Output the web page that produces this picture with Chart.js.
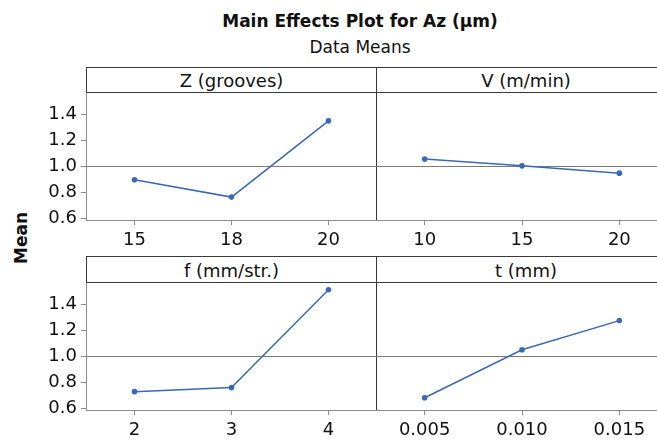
<!DOCTYPE html>
<html><head><meta charset="utf-8">
<script src="https://cdn.jsdelivr.net/npm/chart.js@4.4.1/dist/chart.umd.min.js"></script>
<style>
html,body{margin:0;padding:0;background:#fff;}
#wrap{position:relative;width:657px;height:440px;overflow:hidden;font-family:"DejaVu Sans",sans-serif;color:#111;background:#fff;}
.abs{position:absolute;}
.ttl{left:0;width:720px;text-align:center;line-height:1;white-space:nowrap;}
.strip{box-sizing:border-box;border:1px solid #3a3a3a;text-align:center;font-size:18px;line-height:24px;padding-top:1px;white-space:nowrap;overflow:hidden;}
canvas{position:absolute;display:block;}
</style>
</head><body>
<div id="wrap">
  <div class="abs ttl" style="top:13px;font-size:17px;font-weight:bold;">Main Effects Plot for Az (µm)</div>
  <div class="abs ttl" style="top:39px;font-size:17px;">Data Means</div>
  <div class="abs" style="left:-19px;top:228px;width:80px;height:20px;line-height:20px;text-align:center;font-size:17px;font-weight:bold;transform:rotate(-90deg);">Mean</div>

  <div class="abs strip" style="left:86px;top:67px;width:291px;height:26px;">Z (grooves)</div>
  <div class="abs strip" style="left:376px;top:67px;width:300px;height:26px;"><span style="display:inline-block;width:290px;">V (m/min)</span></div>
  <div class="abs strip" style="left:86px;top:256px;width:291px;height:27px;line-height:25px;">f (mm/str.)</div>
  <div class="abs strip" style="left:376px;top:256px;width:300px;height:27px;line-height:25px;"><span style="display:inline-block;width:290px;">t (mm)</span></div>

  <canvas id="cZ" width="377" height="157" style="left:0;top:93px;"></canvas>
  <canvas id="cV" width="292" height="157" style="left:376px;top:93px;"></canvas>
  <canvas id="cF" width="377" height="157" style="left:0;top:283px;"></canvas>
  <canvas id="cT" width="292" height="157" style="left:376px;top:283px;"></canvas>
</div>
<script>
// ---- data ----
const zLevels = ['15', '18', '20'];
const zMeans  = [0.895, 0.762, 1.348];
const vLevels = ['10', '15', '20'];
const vMeans  = [1.054, 1.002, 0.946];
const fLevels = ['2', '3', '4'];
const fMeans  = [0.727, 0.758, 1.510];
const tLevels = ['0.005', '0.010', '0.015'];
const tMeans  = [0.680, 1.049, 1.273];
const yTicks  = [0.6, 0.8, 1.0, 1.2, 1.4];
const grandMean = 1.0;
const yMin = 0.586, yMax = 1.562;

// ---- style ----
const BLUE = '#3b68b4';
const AXIS = '#8c8c8c';
const FONT = '"DejaVu Sans", sans-serif';

const panelFrame = {
  id: 'panelFrame',
  beforeDatasetsDraw(chart, args, opts) {
    const {ctx, chartArea: a, scales: {y}} = chart;
    const yy = Math.round(y.getPixelForValue(opts.ref)) + 0.5;
    ctx.save();
    ctx.lineWidth = 1;
    ctx.strokeStyle = '#7a7a7a';
    ctx.beginPath(); ctx.moveTo(a.left, yy); ctx.lineTo(a.right, yy); ctx.stroke();
    if (opts.rightBorder) {
      ctx.strokeStyle = '#3a3a3a';
      ctx.beginPath(); ctx.moveTo(a.right - 0.5, a.top); ctx.lineTo(a.right - 0.5, a.bottom); ctx.stroke();
    }
    ctx.restore();
  }
};

function makePanel(id, labels, values, showY) {
  return new Chart(document.getElementById(id), {
    type: 'line',
    data: {
      labels: labels,
      datasets: [{
        data: values,
        borderColor: BLUE, backgroundColor: BLUE,
        borderWidth: 1.5, pointRadius: 2.8, pointHoverRadius: 2.8,
        pointBorderWidth: 0, tension: 0
      }]
    },
    options: {
      responsive: false, animation: false, devicePixelRatio: 1,
      layout: {padding: 0, autoPadding: false},
      events: [],
      plugins: {
        legend: {display: false},
        tooltip: {enabled: false},
        panelFrame: {ref: grandMean, rightBorder: showY}
      },
      scales: {
        x: {
          type: 'category', offset: true,
          grid: {display: true, drawOnChartArea: false, drawTicks: true, tickLength: 5, color: AXIS, offset: false},
          border: {display: true, color: AXIS},
          ticks: {font: {family: FONT, size: 18}, color: '#111', padding: 5, maxRotation: 0, autoSkip: false},
          afterFit(s) { s.height = 30; s.paddingLeft = 0; s.paddingRight = 0; }
        },
        y: {
          display: showY, min: yMin, max: yMax,
          afterBuildTicks(s) { s.ticks = yTicks.map(v => ({value: v})); },
          grid: {display: true, drawOnChartArea: false, drawTicks: true, tickLength: 5, color: AXIS},
          border: {display: true, color: AXIS},
          ticks: {font: {family: FONT, size: 18}, color: '#111', padding: 4, callback: v => Number(v).toFixed(1)},
          afterFit(s) { if (showY) { s.width = 86; } s.paddingTop = 0; s.paddingBottom = 0; }
        }
      }
    },
    plugins: [panelFrame]
  });
}

makePanel('cZ', zLevels, zMeans, true);
makePanel('cV', vLevels, vMeans, false);
makePanel('cF', fLevels, fMeans, true);
makePanel('cT', tLevels, tMeans, false);
</script>
</body></html>
